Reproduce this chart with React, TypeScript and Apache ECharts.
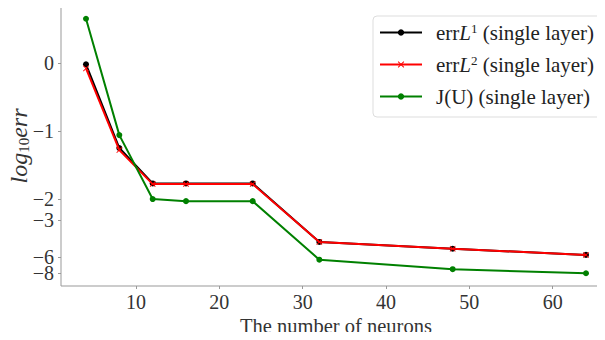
import React, { useEffect, useRef } from "react";
import * as echarts from "echarts";

// Number of neurons
const neurons = [4, 8, 12, 16, 24, 32, 48, 64];
// Values in the chart's (non-uniform) y-axis display units
const errL1 = [-0.02, -1.25, -1.77, -1.77, -1.77, -2.63, -2.73, -2.82];
const errL2 = [-0.08, -1.28, -1.78, -1.78, -1.78, -2.63, -2.73, -2.82];
const jU = [0.65, -1.06, -2.0, -2.03, -2.03, -2.89, -3.03, -3.09];

// y tick positions (display units) and their labels
const yTickPositions = [0, -1, -2, -2.31, -2.85, -3.09];
const yTickLabels = ["0", "\u22121", "\u22122", "\u22123", "\u22126", "\u22128"];
const xTicks = [10, 20, 30, 40, 50, 60];

const seriesNames = ["errL1", "errL2", "J(U)"];

const FONT = "'Liberation Serif', serif";
const Y_MIN = -3.277;
const Y_MAX = 0.837;

const labelFor = (v: number) => {
  let best = 0;
  let bd = Infinity;
  yTickPositions.forEach((p, i) => {
    const d = Math.abs(p - v);
    if (d < bd) {
      bd = d;
      best = i;
    }
  });
  return yTickLabels[best];
};

// The two closely spaced ticks are split across two overlapping axes so that neither is hidden
const mainTicks = yTickPositions.filter((_, i) => i !== 4);
const extraTicks = [yTickPositions[4]];

export default function App() {
  const ref = useRef<HTMLDivElement>(null);
  useEffect(() => {
    const chart = echarts.init(ref.current!, undefined, { renderer: "svg" });
    const pair = (arr: number[]) => neurons.map((n, i) => [n, arr[i]]);
    const yLabel = (vals: number[]) => ({
      fontFamily: FONT,
      fontSize: 20,
      lineHeight: 14,
      color: "#333",
      margin: 7,
      hideOverlap: false,
      showMinLabel: true,
      showMaxLabel: true,
      customValues: vals,
      formatter: labelFor,
    });
    chart.setOption({
      animation: false,
      backgroundColor: "#ffffff",
      textStyle: { fontFamily: FONT },
      grid: {
        left: 61,
        top: 6,
        right: -6,
        bottom: 54,
        outerBoundsMode: "none",
        containLabel: false,
        show: true,
        borderColor: "#999999",
        borderWidth: 1,
      },
      legend: {
        data: seriesNames,
        left: 373,
        top: 16,
        orient: "vertical",
        itemWidth: 42,
        itemHeight: 8,
        itemGap: 11,
        padding: [6, 9, 10, 6],
        borderColor: "#dddddd",
        borderWidth: 1,
        borderRadius: 4,
        backgroundColor: "rgba(255,255,255,0.85)",
        textStyle: {
          fontFamily: FONT,
          fontSize: 21,
          color: "#222",
          padding: [0, 0, 0, 9],
          rich: {
            i: { fontFamily: FONT, fontSize: 21, fontStyle: "italic", color: "#222" },
            sup: { fontFamily: FONT, fontSize: 13, color: "#222", verticalAlign: "top", padding: [0, 0, 8, 0] },
          },
        },
        formatter: (name: string) => {
          if (name === "errL1") return "err{i|L}{sup|1} (single layer)";
          if (name === "errL2") return "err{i|L}{sup|2} (single layer)";
          return "J(U) (single layer)";
        },
      },
      xAxis: {
        type: "value",
        min: 1,
        max: 67,
        name: "The number of neurons",
        nameLocation: "middle",
        nameGap: 29,
        nameMoveOverlap: false,
        nameTextStyle: { fontFamily: FONT, fontSize: 20.5, color: "#333" },
        axisLine: { show: false, onZero: false },
        axisTick: { show: true, length: 3, lineStyle: { color: "#999" }, customValues: xTicks },
        splitLine: { show: false },
        axisLabel: {
          fontFamily: FONT,
          fontSize: 20,
          color: "#333",
          margin: 6,
          customValues: xTicks,
        },
      },
      yAxis: [
        {
          type: "value",
          position: "left",
          min: Y_MIN,
          max: Y_MAX,
          name: "{i|log}{s|10}{i|err}",
          nameLocation: "middle",
          nameRotate: 90,
          nameGap: 30,
          nameMoveOverlap: false,
          nameTextStyle: {
            fontFamily: FONT,
            rich: {
              i: { fontFamily: FONT, fontSize: 24, fontStyle: "italic", color: "#333" },
              s: { fontFamily: FONT, fontSize: 15, fontStyle: "normal", color: "#333", verticalAlign: "bottom", padding: [8, 0, 0, 0] },
            },
          },
          axisLine: { show: false, onZero: false },
          axisTick: { show: true, length: 3, lineStyle: { color: "#999" }, customValues: mainTicks },
          splitLine: { show: false },
          axisLabel: yLabel(mainTicks),
        },
        {
          type: "value",
          position: "left",
          offset: 0,
          min: Y_MIN,
          max: Y_MAX,
          axisLine: { show: false, onZero: false },
          axisTick: { show: true, length: 3, lineStyle: { color: "#999" }, customValues: extraTicks },
          splitLine: { show: false },
          axisLabel: yLabel(extraTicks),
        },
      ],
      series: [
        {
          name: "errL1",
          type: "line",
          data: pair(errL1),
          color: "#000000",
          symbol: "circle",
          symbolSize: 6,
          lineStyle: { width: 2, color: "#000000" },
          itemStyle: { color: "#000000" },
          z: 2,
        },
        {
          name: "errL2",
          type: "line",
          data: pair(errL2),
          color: "#ff0000",
          symbol: "path://M0 1 L1 0 L5 4 L9 0 L10 1 L6 5 L10 9 L9 10 L5 6 L1 10 L0 9 L4 5 Z",
          symbolSize: 6,
          lineStyle: { width: 2, color: "#ff0000" },
          itemStyle: { color: "#ff0000" },
          z: 3,
        },
        {
          name: "J(U)",
          type: "line",
          data: pair(jU),
          color: "#008000",
          symbol: "circle",
          symbolSize: 6,
          lineStyle: { width: 2, color: "#008000" },
          itemStyle: { color: "#008000" },
          z: 4,
        },
      ],
    });
    return () => chart.dispose();
  }, []);
  return <div ref={ref} style={{ width: 605, height: 340, margin: -8 }} />;
}
